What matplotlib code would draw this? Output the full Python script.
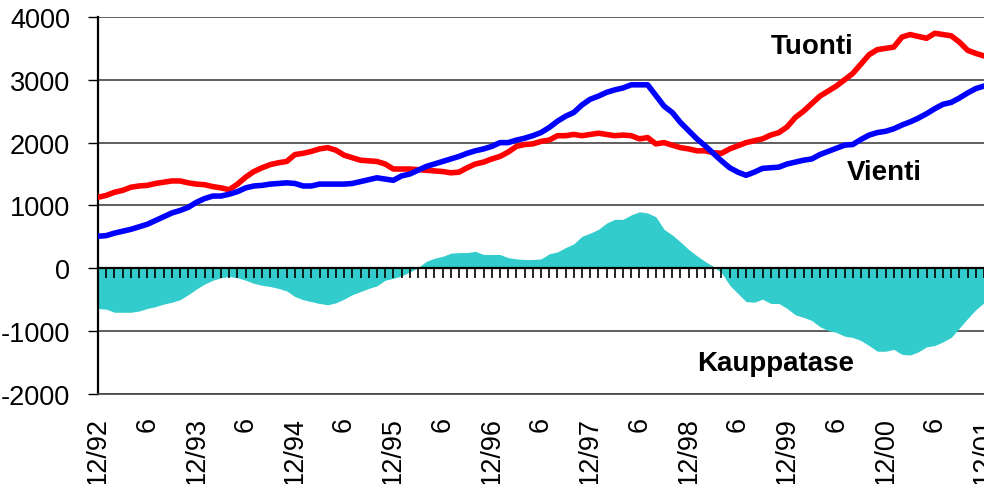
import matplotlib
matplotlib.use("Agg")
import matplotlib.pyplot as plt

plt.rcParams['font.family'] = ['Liberation Sans', 'DejaVu Sans']
plt.rcParams['axes.unicode_minus'] = False

# kuukausittain 12/92 ... 12/01, milj. euroa (12 kk liukuva)
tuonti = [1130, 1160, 1210, 1240, 1290, 1310, 1320, 1350, 1370, 1390,
          1390, 1360, 1340, 1330, 1300, 1280, 1250, 1340, 1450, 1540,
          1600, 1650, 1680, 1700, 1810, 1830, 1860, 1900, 1920, 1880,
          1800, 1760, 1720, 1710, 1700, 1660, 1580, 1580, 1580, 1570,
          1560, 1550, 1540, 1520, 1530, 1600, 1660, 1690, 1740, 1780,
          1850, 1940, 1970, 1980, 2020, 2040, 2110, 2110, 2130, 2110,
          2130, 2150, 2130, 2110, 2120, 2110, 2060, 2080, 1980, 2000,
          1960, 1920, 1900, 1870, 1870, 1840, 1830, 1900, 1950, 2000,
          2030, 2060, 2120, 2160, 2250, 2400, 2500, 2620, 2740, 2820,
          2900, 3000, 3100, 3250, 3400, 3480, 3500, 3520, 3680, 3720,
          3690, 3660, 3740, 3720, 3700, 3600, 3470, 3420, 3380]

vienti = [510, 520, 560, 590, 620, 660, 700, 760, 820, 880,
          920, 970, 1050, 1110, 1150, 1150, 1180, 1220, 1280, 1310,
          1320, 1340, 1350, 1360, 1350, 1310, 1310, 1340, 1340, 1340,
          1340, 1350, 1380, 1410, 1440, 1420, 1400, 1470, 1500, 1560,
          1620, 1660, 1700, 1740, 1780, 1830, 1870, 1900, 1940, 2000,
          2000, 2040, 2070, 2110, 2160, 2240, 2340, 2420, 2480, 2600,
          2690, 2740, 2800, 2840, 2870, 2920, 2920, 2920, 2750, 2580,
          2480, 2320, 2190, 2060, 1950, 1830, 1710, 1600, 1530, 1480,
          1530, 1590, 1600, 1610, 1660, 1690, 1720, 1740, 1810, 1860,
          1910, 1960, 1970, 2050, 2120, 2160, 2180, 2220, 2280, 2330,
          2390, 2460, 2540, 2610, 2640, 2710, 2790, 2860, 2900]

kauppatase = [-640, -650, -700, -700, -700, -680, -640, -610, -570, -540,
              -500, -420, -330, -250, -190, -150, -130, -150, -190, -240,
              -270, -290, -320, -360, -450, -500, -530, -560, -580, -550,
              -490, -420, -370, -320, -280, -190, -160, -120, -60, 10,
              110, 160, 190, 240, 250, 250, 270, 220, 220, 220,
              170, 150, 140, 140, 150, 230, 260, 330, 390, 510,
              560, 620, 720, 780, 780, 850, 900, 880, 820, 620,
              530, 420, 300, 200, 110, 30, -70, -270, -400, -530,
              -540, -490, -560, -560, -640, -740, -780, -830, -930, -990,
              -1020, -1080, -1100, -1150, -1230, -1320, -1320, -1290, -1370, -1380,
              -1330, -1250, -1230, -1170, -1100, -950, -800, -660, -550]

tick_labels = ['12/92', '6', '12/93', '6', '12/94', '6', '12/95', '6', '12/96', '6',
               '12/97', '6', '12/98', '6', '12/99', '6', '12/00', '6', '12/01']

kk = list(range(len(tuonti)))

fig = plt.figure(figsize=(9.84, 4.85), dpi=100)
ax = fig.add_axes([0.0996, 0.1856, 0.9004, 0.7774])

ax.fill_between(kk, kauppatase, 0, color='#33CCCC', linewidth=0, zorder=1)
ax.plot(kk, tuonti, color='#FF0000', linewidth=4, zorder=3)
ax.plot(kk, vienti, color='#0000FF', linewidth=4, zorder=3)

ax.set_xlim(0, 108)
ax.set_ylim(-2000, 4000)
ax.set_yticks(range(-2000, 4001, 1000))
ax.tick_params(axis='y', direction='out', length=7, width=1, pad=13, labelsize=19.5)

ax.set_xticks(range(0, 109, 6))
ax.set_xticklabels(tick_labels, rotation=90, fontsize=19.5)
ax.tick_params(axis='x', length=0, pad=16)

ax.set_axisbelow(True)
ax.yaxis.grid(True, color='#444444', linewidth=1.2)

ax.spines['top'].set_visible(False)
ax.spines['right'].set_visible(False)
ax.spines['bottom'].set_color('#444444')
ax.spines['bottom'].set_linewidth(1.2)
ax.spines['left'].set_linewidth(1.6)

# kuukausiviivat nollatasolla
sec = ax.secondary_xaxis(1 / 3)
sec.set_xticks(kk)
sec.tick_params(direction='out', length=7, width=1.2, labelbottom=False, labeltop=False)
sec.spines['bottom'].set_linewidth(1.6)
sec.set_zorder(1.5)

ax.text(87, 3540, 'Tuonti', ha='center', va='center', fontsize=20, fontweight='bold')
ax.text(95.8, 1530, 'Vienti', ha='center', va='center', fontsize=20, fontweight='bold')
ax.text(82.6, -1500, 'Kauppatase', ha='center', va='center', fontsize=20, fontweight='bold')

fig.savefig('out.png', dpi=100)
